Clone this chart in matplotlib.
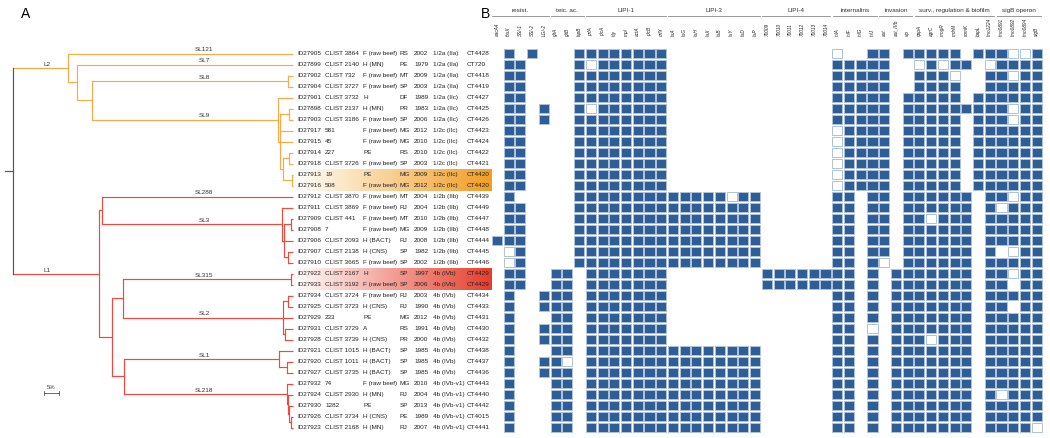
import numpy as np
import matplotlib
matplotlib.use("Agg")
import matplotlib.pyplot as plt
from matplotlib.patches import Rectangle
from matplotlib.colors import LinearSegmentedColormap

plt.rcParams['font.family'] = ['Liberation Sans', 'DejaVu Sans']

# ---- strain table ----
ids = ["ID27905", "ID27899", "ID27902", "ID27904", "ID27901", "ID27898", "ID27903",
       "ID27917", "ID27915", "ID27914", "ID27918", "ID27913", "ID27916", "ID27912",
       "ID27911", "ID27909", "ID27908", "ID27906", "ID27907", "ID27910", "ID27922",
       "ID27933", "ID27934", "ID27925", "ID27929", "ID27931", "ID27928", "ID27921",
       "ID27920", "ID27927", "ID27932", "ID27924", "ID27930", "ID27926", "ID27923"]
names = ["CLIST 3864", "CLIST 2140", "CLIST 732", "CLIST 3727", "CLIST 3732", "CLIST 2137",
         "CLIST 3186", "581", "45", "227", "CLIST 3726", "19", "508", "CLIST 3870",
         "CLIST 3869", "CLIST 441", "7", "CLIST 2093", "CLIST 2138", "CLIST 3665",
         "CLIST 2167", "CLIST 3192", "CLIST 3724", "CLIST 3723", "233", "CLIST 3729",
         "CLIST 3739", "CLIST 1015", "CLIST 1011", "CLIST 3735", "74", "CLIST 2930",
         "1282", "CLIST 3734", "CLIST 2168"]
sources = ["F (raw beef)", "H (MN)", "F (raw beef)", "F (raw beef)", "H", "H (MN)",
           "F (raw beef)", "F (raw beef)", "F (raw beef)", "PE", "F (raw beef)", "PE",
           "F (raw beef)", "F (raw beef)", "F (raw beef)", "F (raw beef)", "F (raw beef)",
           "H (BACT)", "H (CNS)", "F (raw beef)", "H", "F (raw beef)", "F (raw beef)",
           "H (CNS)", "PE", "A", "H (CNS)", "H (BACT)", "H (BACT)", "H (BACT)",
           "F (raw beef)", "H (MN)", "PE", "H (CNS)", "H (MN)"]
states = ["RS", "PE", "MT", "SP", "DF", "PR", "SP", "MG", "MG", "RS", "SP", "MG", "MG",
          "MT", "RJ", "MT", "MG", "RJ", "SP", "SP", "SP", "SP", "RJ", "RJ", "MG", "RS",
          "PR", "SP", "SP", "SP", "MG", "RJ", "SP", "PE", "RJ"]
years = [2002, 1979, 2009, 2003, 1989, 1983, 2006, 2012, 2010, 2010, 2003, 2009, 2012,
         2004, 2004, 2010, 2009, 2008, 1982, 2002, 1997, 2006, 2003, 1990, 2012, 1991,
         2000, 1985, 1985, 1985, 2010, 2004, 2013, 1989, 2007]
serotypes = ["1/2a (IIa)", "1/2a (IIa)", "1/2a (IIa)", "1/2a (IIa)", "1/2a (IIc)",
             "1/2a (IIc)", "1/2a (IIc)", "1/2c (IIc)", "1/2c (IIc)", "1/2c (IIc)",
             "1/2c (IIc)", "1/2c (IIc)", "1/2c (IIc)", "1/2b (IIb)", "1/2b (IIb)",
             "1/2b (IIb)", "1/2b (IIb)", "1/2b (IIb)", "1/2b (IIb)", "1/2b (IIb)",
             "4b (IVb)", "4b (IVb)", "4b (IVb)", "4b (IVb)", "4b (IVb)", "4b (IVb)",
             "4b (IVb)", "4b (IVb)", "4b (IVb)", "4b (IVb)", "4b (IVb-v1)", "4b (IVb-v1)",
             "4b (IVb-v1)", "4b (IVb-v1)", "4b (IVb-v1)"]
cts = ["CT4428", "CT720", "CT4418", "CT4419", "CT4427", "CT4425", "CT4426", "CT4423",
       "CT4424", "CT4422", "CT4421", "CT4420", "CT4420", "CT4439", "CT4449", "CT4447",
       "CT4448", "CT4444", "CT4445", "CT4446", "CT4429", "CT4429", "CT4434", "CT4433",
       "CT4431", "CT4430", "CT4432", "CT4438", "CT4437", "CT4436", "CT4443", "CT4440",
       "CT4442", "CT4015", "CT4441"]
orange_rows = [12, 13]
red_rows = [21, 22]

# ---- genes ----
genes = ["aacA4", "fosX", "SSI-1", "SSI-2", "LGI-2", "gltA", "gltB", "lapB",
         "prfA", "plcA", "hly", "mpl", "actA", "plcB", "orfX",
         "llsA", "llsG", "llsH", "llsX", "llsB", "llsY", "llsD", "llsP",
         "70009", "70010", "70011", "70012", "70013", "70014",
         "inlA", "inlF", "inlG", "inlJ", "aut", "aut_IVb", "vip",
         "oppA", "agrC", "mogR", "mdrM", "comK", "bapL", "lmo1224",
         "lmo0891", "lmo0892", "lmo0894", "sigB"]
groups = [("resist.", 0, 4), ("teic. ac.", 5, 7), ("LIPI-1", 8, 14), ("LIPI-3", 15, 22),
          ("LIPI-4", 23, 28), ("internalins", 29, 32), ("invasion", 33, 35),
          ("surv., regulation & biofilm", 36, 42), ("sigB operon", 43, 46)]

# 1 = present, o = outlined (partial), . = absent
presence = [
    ".1.1. ..1 1111111 ........ ...... o..1 1.1 1111.11 1oo1",
    ".11.. ..1 o111111 ........ ...... 1111 1.. o1o11.o 1111",
    ".11.. ..1 1111111 ........ ...... 1111 1.. 111o..1 1o11",
    ".11.. ..1 1111111 ........ ...... 1111 1.. 1111..1 1111",
    ".11.. ..1 1111111 ........ ...... 1111 1.1 1111.11 1111",
    ".11.1 ..1 o111111 ........ ...... 1111 1.1 1111111 1o11",
    ".11.1 ..1 1111111 ........ ...... 1111 1.1 1111.11 1o11",
    ".11.. ..1 1111111 ........ ...... o111 1.1 1111.11 1111",
    ".11.. ..1 1111111 ........ ...... o111 1.1 1111.11 1111",
    ".11.. ..1 1111111 ........ ...... o111 1.1 1111.11 1111",
    ".11.. ..1 1111111 ........ ...... o111 1.1 1111.11 1111",
    ".11.. ..1 1111111 ........ ...... o111 1.1 1111.11 1111",
    ".11.. ..1 1111111 ........ ...... o111 1.1 1111.11 1111",
    ".1... ..1 1111111 11111o11 ...... 11.1 1.1 11111.1 1o11",
    ".11.. ..1 1111111 11111111 ...... 11.1 1.1 11111.1 o111",
    ".11.. ..1 1111111 11111111 ...... 11.1 1.1 1o111.1 1111",
    ".11.. ..1 1111111 11111111 ...... 11.1 1.1 11111.1 1111",
    "111.. ..1 1111111 11111111 ...... 11.1 1.1 11111.1 1111",
    ".o1.. ..1 1111111 11111111 ...... 11.1 1.1 11111.1 .o11",
    ".o1.. ..1 1111111 11111111 ...... 11.1 o.1 11111.1 1111",
    ".11.. 11. 1111111 ........ 111111 11.1 .11 11111.1 1o11",
    ".11.. 11. 1111111 ........ 111111 11.1 .11 11111.1 1.11",
    ".1..1 11. 1111111 ........ ...... 11.1 .11 11111.1 1111",
    ".1..1 11. 1111111 ........ ...... 11.1 .11 11111.1 1.11",
    ".1... 11. 1111111 ........ ...... 11.1 .11 11111.1 1111",
    ".1..1 11. 1111111 ........ ...... 11.o .11 11111.1 1111",
    ".1..1 11. 1111111 ........ ...... 11.1 .11 1o111.1 1111",
    ".1... 11. 1111111 11111111 ...... 11.1 .11 11111.1 1111",
    ".1..1 1o. 1111111 11111111 ...... 11.1 .11 11111.1 1111",
    ".1..1 11. 1111111 11111111 ...... 11.1 .11 11111.1 1111",
    ".1... 11. 1111111 11111111 ...... 11.1 .11 11111.1 1111",
    ".1... 11. 1111111 11111111 ...... 11.1 .11 11111.1 o111",
    ".1... 11. 1111111 11111111 ...... 11.1 .11 11111.1 1111",
    ".1... 11. 1111111 11111111 ...... 11.1 .11 11111.1 1111",
    ".1... 11. 1111111 11111111 ...... 11.1 .11 11111.1 111o",
]

# ---- tree: (distance %, children, clade label); ints are table rows ----
LEAF = 93.3
sl9 = (88.3, [5, (89.0, [(92.0, [6, 7], ""), 8, 9,
                         (90.0, [(92.0, [10, 11], ""), (93.0, [12, 13], "")], "")], "")], "SL9")
sl3 = (89.7, [15, (90.3, [(92.7, [16, 17], ""), 18, (91.7, [19, 20], "")], "")], "SL3")
sl2 = (90.0, [(91.7, [23, 24], ""), 25, (90.7, [26, 27], "")], "SL2")
sl1 = (88.7, [28, (91.3, [29, 30], "")], "SL1")
sl218 = (91.3, [31, (91.7, [32, (92.0, [33, (92.7, [34, 35], "")], "")], "")], "SL218")
lin2 = (18.3, [(LEAF, [1], "SL121"),
               (21.3, [(LEAF, [2], "SL7"),
                       (26.3, [(91.7, [3, 4], "SL8"), sl9], "")], "")], "L2")
lin1 = (28.7, [(29.7, [(LEAF, [14], "SL288"), sl3], ""),
               (33.0, [(36.7, [(92.7, [21, 22], "SL315"), sl2], ""),
                       (37.0, [sl1, sl218], "")], "")], "L1")
tree = (0.0, [lin2, lin1], "")
clade_colors = {"L2": "#f6aa48", "L1": "#f04a3e"}

# ---- layout ----
W, H = 1050, 438
fig = plt.figure(figsize=(W / 100, H / 100), dpi=100)
row_top, row_bot = 48.0, 433.0
b = (H - row_bot) / H
h = (row_bot - row_top) / H
nrows = len(ids)

ax_t = fig.add_axes([0, b, 294 / W, h])
ax_l = fig.add_axes([294 / W, b, 197.1 / W, h])
ax_m = fig.add_axes([491.1 / W, b, 551.5 / W, h])
for a in (ax_t, ax_l, ax_m):
    a.set_ylim(nrows + 0.5, 0.5)
    a.axis("off")
ax_t.set_xlim(-13 / 3, 281 / 3)
ax_l.set_xlim(0, 197.1)
ax_m.set_xlim(-0.5, len(genes) - 0.5)

# ---- tree ----
lw = 0.85


def draw(node, parent, color):
    if isinstance(node, int):
        ax_t.plot([parent, LEAF], [node, node], color=color, lw=lw, solid_capstyle="butt")
        return node
    depth, kids, label = node
    color = clade_colors.get(label, color)
    ys = [draw(k, depth, color) for k in kids]
    y = (ys[0] + ys[-1]) / 2
    if len(ys) > 1:
        ax_t.plot([depth, depth], [ys[0], ys[-1]], color=color, lw=lw)
    if parent is not None:
        ax_t.plot([parent, depth], [y, y], color=color, lw=lw, solid_capstyle="butt")
    if label:
        lx = 11.3 if label in ("L1", "L2") else 63.7
        ax_t.text(lx, y - 0.1, label, ha="center", va="bottom", fontsize=4.6, color="#333333")
    return y


root_y = draw(tree, None, "#555555")
ax_t.plot([-2.7, 0], [root_y, root_y], color="#555555", lw=lw)

# scale bar
sb_y = 31.86
ax_t.plot([10.3, 15.3], [sb_y, sb_y], color="#555555", lw=0.6)
for sx in (10.3, 15.3):
    ax_t.plot([sx, sx], [sb_y - 0.22, sb_y + 0.22], color="#555555", lw=0.6)
ax_t.text(12.8, sb_y - 0.3, "5%", ha="center", va="bottom", fontsize=4.3, color="#333333")

# ---- labels with highlight ----
grad = np.linspace(0, 1, 256).reshape(1, -1)
for rows, col in ((orange_rows, "#f39d22"), (red_rows, "#e63e2c")):
    cmap = LinearSegmentedColormap.from_list("g", ["#ffffff", col])
    ax_l.imshow(grad, cmap=cmap, aspect="auto", extent=(0, 197.1, rows[-1] + 0.5, rows[0] - 0.5),
                zorder=0)
ax_l.set_ylim(nrows + 0.5, 0.5)
ax_l.set_xlim(0, 197.1)

col_x = [3, 31, 69, 106, 120, 139, 173]
for i in range(nrows):
    vals = [ids[i], names[i], sources[i], states[i], str(years[i]), serotypes[i], cts[i]]
    for x, v in zip(col_x, vals):
        ax_l.text(x, i + 1, v, ha="left", va="center", fontsize=4.6, color="#222222", zorder=3)

# ---- presence matrix ----
fill_c, edge_c = "#2f5e97", "#aec2dd"
cw, ch = 0.86, 0.9
for i, row in enumerate(presence):
    cells = row.replace(" ", "")
    for j, c in enumerate(cells):
        if c == ".":
            continue
        fc = fill_c if c == "1" else "white"
        ax_m.add_patch(Rectangle((j - cw / 2, i + 1 - ch / 2), cw, ch, facecolor=fc,
                                 edgecolor=edge_c, lw=0.7))

# gene labels
for j, g in enumerate(genes):
    ax_m.text(j, -0.55, g, rotation=90, ha="center", va="bottom", fontsize=3.4,
              style="italic", color="#222222", clip_on=False)

# group headers
for name, c0, c1 in groups:
    ax_m.plot([c0 - 0.4, c1 + 0.4], [-2.45, -2.45], color="#888888", lw=0.6, clip_on=False)
    ax_m.text((c0 + c1) / 2, -2.64, name, ha="center", va="bottom", fontsize=4.6,
              color="#333333", clip_on=False)

fig.text(26 / W, 1 - 14 / H, "A", ha="center", va="center", fontsize=10)
fig.text(486 / W, 1 - 14 / H, "B", ha="center", va="center", fontsize=10)

fig.savefig("out.png", dpi=100)
